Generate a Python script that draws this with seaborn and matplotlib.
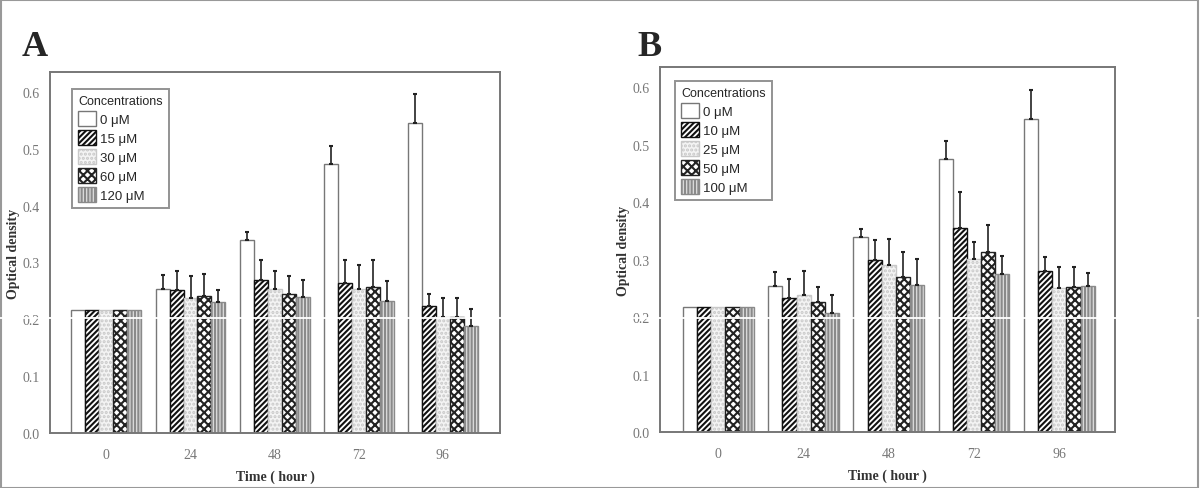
import numpy as np
import pandas as pd
import seaborn as sns
import matplotlib.pyplot as plt
from matplotlib.patches import Patch, Rectangle
from matplotlib.lines import Line2D

# x categories
times = ["0", "24", "48", "72", "96"]

# panel A
conc_a = ["0 μM", "15 μM", "30 μM", "60 μM", "120 μM"]
mean_a = [
    [0.217, 0.254, 0.339, 0.474, 0.545],  # 0
    [0.217, 0.252, 0.269, 0.264, 0.224],  # 15
    [0.217, 0.238, 0.254, 0.254, 0.204],  # 30
    [0.217, 0.241, 0.244, 0.257, 0.204],  # 60
    [0.217, 0.230, 0.240, 0.233, 0.189],  # 120
]
top_a = [
    [0.217, 0.278, 0.353, 0.505, 0.597],
    [0.217, 0.285, 0.304, 0.305, 0.244],
    [0.217, 0.277, 0.285, 0.296, 0.238],
    [0.217, 0.280, 0.277, 0.304, 0.238],
    [0.217, 0.252, 0.269, 0.268, 0.219],
]

# panel B
conc_b = ["0 μM", "10 μM", "25 μM", "50 μM", "100 μM"]
mean_b = [
    [0.217, 0.254, 0.339, 0.475, 0.544],
    [0.217, 0.234, 0.300, 0.355, 0.280],
    [0.217, 0.239, 0.291, 0.301, 0.250],
    [0.217, 0.226, 0.269, 0.313, 0.253],
    [0.217, 0.208, 0.256, 0.275, 0.255],
]
top_b = [
    [0.217, 0.279, 0.354, 0.506, 0.595],
    [0.217, 0.266, 0.334, 0.417, 0.304],
    [0.217, 0.280, 0.336, 0.330, 0.288],
    [0.217, 0.253, 0.313, 0.361, 0.288],
    [0.217, 0.239, 0.302, 0.307, 0.277],
]

# fill, hatch, hatch/edge colour per concentration level
styles = [
    ("white", "", "#777777"),
    ("white", "//////", "#111111"),
    ("#f4f4f4", "....", "#c8c8c8"),
    ("white", "xxxx", "#222222"),
    ("#dddddd", "|||||", "#8a8a8a"),
]

plt.rcParams["hatch.linewidth"] = 1.5
serif = "Liberation Serif"
sans = "Liberation Sans"


def panel(ax, concs, means, tops, xlim, leg_at):
    rows = []
    for c, vals in zip(concs, means):
        for t, v in zip(times, vals):
            rows.append({"time": t, "conc": c, "od": v})
    df = pd.DataFrame(rows)
    sns.barplot(data=df, x="time", y="od", hue="conc", order=times,
                hue_order=concs, errorbar=None, width=0.83, ax=ax,
                legend=False, linewidth=1.0)
    for cont, (fc, h, ec), tp, mn in zip(ax.containers, styles, tops, means):
        xs = []
        for bar in cont:
            bar.set_facecolor(fc)
            bar.set_hatch(h)
            bar.set_edgecolor(ec)
            xs.append(bar.get_x() + bar.get_width() / 2)
        err = np.array(tp) - np.array(mn)
        keep = err > 0.001
        ax.errorbar(np.array(xs)[keep], np.array(mn)[keep],
                    yerr=[np.zeros(keep.sum()), err[keep]],
                    fmt="none", ecolor="#222222", elinewidth=1.2,
                    capsize=1.5, capthick=1.5, zorder=3)

    ax.set_ylim(0, 0.635)
    ax.set_xlim(*xlim)
    ax.set_yticks([0.0, 0.1, 0.2, 0.3, 0.4, 0.5, 0.6])
    ax.set_yticklabels(["0.0", "0.1", "0.2", "0.3", "0.4", "0.5", "0.6"])
    ax.tick_params(axis="both", direction="out", length=4, width=1.2,
                   colors="#555555", labelcolor="#777777", labelsize=10)
    ax.tick_params(axis="x", pad=7)
    for lab in ax.get_xticklabels() + ax.get_yticklabels():
        lab.set_family(serif)
    for s in ax.spines.values():
        s.set_color("#777777")
        s.set_linewidth(1.4)
    ax.set_xlabel("Time ( hour )", family=serif, fontweight="bold",
                  fontsize=10, color="#333333", labelpad=6)
    ax.set_ylabel("Optical density", family=serif, fontweight="bold",
                  fontsize=10, color="#333333", labelpad=2)

    handles = [Patch(facecolor=fc, hatch=h, edgecolor=ec, label=c)
               for c, (fc, h, ec) in zip(concs, styles)]
    leg = ax.legend(handles=handles, title="Concentrations", loc="upper left",
                    bbox_to_anchor=leg_at, frameon=True, fancybox=False,
                    edgecolor="#777777", title_fontsize=9,
                    handlelength=1.4, handleheight=1.3, handletextpad=0.25,
                    labelspacing=0.33, borderpad=0.45, borderaxespad=0,
                    alignment="left", prop={"family": sans, "size": 9.5})
    leg.get_title().set_family(sans)
    leg.get_frame().set_linewidth(1.4)


sns.set_style("white")
fig = plt.figure(figsize=(12, 4.89), dpi=100)
ax_a = fig.add_axes([0.0417, 0.1125, 0.375, 0.738])
ax_b = fig.add_axes([0.55, 0.1145, 0.379, 0.746])

panel(ax_a, conc_a, mean_a, top_a, (-0.67, 4.68), (0.049, 0.953))
panel(ax_b, conc_b, mean_b, top_b, (-0.684, 4.65), (0.033, 0.962))

fig.text(0.018, 0.885, "A", family=serif, fontweight="bold", fontsize=26)
fig.text(0.531, 0.885, "B", family=serif, fontweight="bold", fontsize=26)

# scan artefacts: white streak at 0.2 and a grey outer frame
fig.add_artist(Line2D([0, 1], [0.3476, 0.3476], color="white", lw=1.3,
                      transform=fig.transFigure, zorder=10))
fig.add_artist(Rectangle((0.001, 0.0), 0.997, 0.997, fill=False,
                         edgecolor="#999999", lw=1.5,
                         transform=fig.transFigure))

fig.savefig("out.png", dpi=100)
